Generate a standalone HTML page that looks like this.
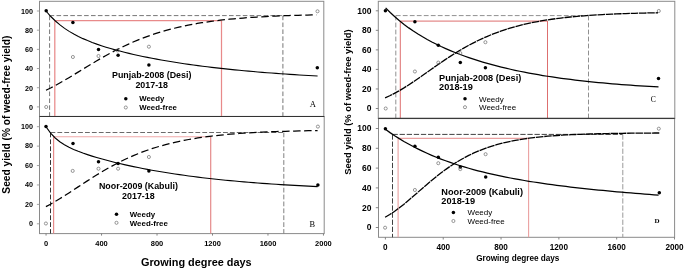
<!DOCTYPE html>
<html><head><meta charset="utf-8"><style>
html,body{margin:0;padding:0;background:#fff;width:685px;height:269px;overflow:hidden}
svg{display:block;filter:blur(0.3px)}

</style></head><body>
<svg width="685" height="269" viewBox="0 0 685 269"><rect x="0" y="0" width="685" height="269" fill="#fff"/>
<rect x="39.5" y="1.3" width="284.30" height="115.10" fill="none" stroke="#8a8a8a" stroke-width="1"/>
<line x1="36.9" y1="106.9" x2="39.5" y2="106.9" stroke="#999" stroke-width="0.9" />
<text x="32.9" y="109.7" font-size="7.2" font-weight="bold" text-anchor="end" fill="#000" style='font-family:"Liberation Sans",sans-serif' >0</text>
<line x1="36.9" y1="87.72" x2="39.5" y2="87.72" stroke="#999" stroke-width="0.9" />
<text x="32.9" y="90.52" font-size="7.2" font-weight="bold" text-anchor="end" fill="#000" style='font-family:"Liberation Sans",sans-serif' >20</text>
<line x1="36.9" y1="68.54" x2="39.5" y2="68.54" stroke="#999" stroke-width="0.9" />
<text x="32.9" y="71.34" font-size="7.2" font-weight="bold" text-anchor="end" fill="#000" style='font-family:"Liberation Sans",sans-serif' >40</text>
<line x1="36.9" y1="49.36" x2="39.5" y2="49.36" stroke="#999" stroke-width="0.9" />
<text x="32.9" y="52.16" font-size="7.2" font-weight="bold" text-anchor="end" fill="#000" style='font-family:"Liberation Sans",sans-serif' >60</text>
<line x1="36.9" y1="30.18" x2="39.5" y2="30.18" stroke="#999" stroke-width="0.9" />
<text x="32.9" y="32.98" font-size="7.2" font-weight="bold" text-anchor="end" fill="#000" style='font-family:"Liberation Sans",sans-serif' >80</text>
<line x1="36.9" y1="11.0" x2="39.5" y2="11.0" stroke="#999" stroke-width="0.9" />
<text x="32.9" y="13.8" font-size="7.2" font-weight="bold" text-anchor="end" fill="#000" style='font-family:"Liberation Sans",sans-serif' >100</text>
<line x1="49.6" y1="15.6" x2="282.9" y2="15.6" stroke="#777" stroke-width="1.0" stroke-dasharray="4.6 2.3" />
<line x1="49.6" y1="15.6" x2="49.6" y2="116.4" stroke="#777" stroke-width="1.0" stroke-dasharray="4.6 2.3" />
<line x1="282.9" y1="15.6" x2="282.9" y2="116.4" stroke="#777" stroke-width="1.0" stroke-dasharray="4.6 2.3" />
<line x1="54.8" y1="20.7" x2="221.5" y2="20.7" stroke="#e88a8a" stroke-width="1.25" />
<line x1="54.8" y1="20.7" x2="54.8" y2="116.4" stroke="#e88a8a" stroke-width="1.25" />
<line x1="221.5" y1="20.7" x2="221.5" y2="116.4" stroke="#e88a8a" stroke-width="1.25" />
<path d="M46.20,11.26 L50.80,16.50 L55.40,21.01 L60.00,24.92 L64.60,28.34 L69.20,31.35 L73.80,34.04 L78.40,36.45 L83.00,38.63 L87.60,40.61 L92.20,42.44 L96.80,44.13 L101.40,45.70 L106.00,47.17 L110.60,48.55 L115.20,49.86 L119.80,51.09 L124.40,52.26 L129.00,53.38 L133.60,54.44 L138.20,55.46 L142.80,56.44 L147.40,57.37 L152.00,58.27 L156.60,59.14 L161.20,59.97 L165.80,60.77 L170.40,61.54 L175.00,62.28 L179.60,63.00 L184.20,63.69 L188.80,64.35 L193.40,65.00 L198.00,65.62 L202.60,66.21 L207.20,66.79 L211.80,67.35 L216.40,67.89 L221.00,68.40 L225.60,68.91 L230.20,69.39 L234.80,69.86 L239.40,70.31 L244.00,70.74 L248.60,71.17 L253.20,71.57 L257.80,71.96 L262.40,72.34 L267.00,72.71 L271.60,73.06 L276.20,73.40 L280.80,73.73 L285.40,74.05 L290.00,74.36 L294.60,74.66 L299.20,74.94 L303.80,75.22 L308.40,75.49 L313.00,75.75 L317.60,76.00" fill="none" stroke="#000" stroke-width="1.1"/>
<path d="M46.00,90.25 L50.58,87.98 L55.17,85.57 L59.75,83.04 L64.34,80.40 L68.92,77.69 L73.51,74.92 L78.09,72.12 L82.68,69.31 L87.26,66.51 L91.85,63.73 L96.43,61.01 L101.02,58.33 L105.60,55.73 L110.19,53.22 L114.77,50.78 L119.36,48.45 L123.94,46.21 L128.53,44.08 L133.11,42.05 L137.69,40.12 L142.28,38.30 L146.86,36.57 L151.45,34.95 L156.03,33.43 L160.62,32.00 L165.20,30.66 L169.79,29.41 L174.37,28.24 L178.96,27.15 L183.54,26.13 L188.13,25.19 L192.71,24.31 L197.30,23.49 L201.88,22.74 L206.47,22.03 L211.05,21.38 L215.64,20.78 L220.22,20.22 L224.81,19.71 L229.39,19.23 L233.97,18.79 L238.56,18.39 L243.14,18.01 L247.73,17.67 L252.31,17.35 L256.90,17.05 L261.48,16.78 L266.07,16.53 L270.65,16.30 L275.24,16.09 L279.82,15.90 L284.41,15.72 L288.99,15.55 L293.58,15.40 L298.16,15.26 L302.75,15.13 L307.33,15.01 L311.92,14.90 L316.50,14.80" fill="none" stroke="#000" stroke-width="1.25" stroke-dasharray="7.5 3.5"/>
<circle cx="46.2" cy="10.8" r="1.75" fill="#000"/>
<circle cx="72.9" cy="22.5" r="1.75" fill="#000"/>
<circle cx="98.5" cy="49.6" r="1.75" fill="#000"/>
<circle cx="118.1" cy="55.3" r="1.75" fill="#000"/>
<circle cx="148.9" cy="65" r="1.75" fill="#000"/>
<circle cx="317.3" cy="67.8" r="1.75" fill="#000"/>
<circle cx="46.2" cy="107" r="1.55" fill="none" stroke="#555" stroke-width="0.6"/>
<circle cx="72.9" cy="57" r="1.55" fill="none" stroke="#555" stroke-width="0.6"/>
<circle cx="98.5" cy="56" r="1.55" fill="none" stroke="#555" stroke-width="0.6"/>
<circle cx="117.5" cy="50.4" r="1.55" fill="none" stroke="#555" stroke-width="0.6"/>
<circle cx="148.9" cy="46.7" r="1.55" fill="none" stroke="#555" stroke-width="0.6"/>
<circle cx="317.5" cy="11.3" r="1.55" fill="none" stroke="#555" stroke-width="0.6"/>
<rect x="378.3" y="1.3" width="296.50" height="117.30" fill="none" stroke="#8a8a8a" stroke-width="1"/>
<line x1="375.8" y1="108.5" x2="378.3" y2="108.5" stroke="#777" stroke-width="0.9" />
<text x="371.4" y="111.4" font-size="8.5" font-weight="bold" text-anchor="end" fill="#000" style='font-family:"Liberation Sans",sans-serif' >0</text>
<line x1="375.8" y1="88.96" x2="378.3" y2="88.96" stroke="#777" stroke-width="0.9" />
<text x="371.4" y="91.86" font-size="8.5" font-weight="bold" text-anchor="end" fill="#000" style='font-family:"Liberation Sans",sans-serif' >20</text>
<line x1="375.8" y1="69.42" x2="378.3" y2="69.42" stroke="#777" stroke-width="0.9" />
<text x="371.4" y="72.32" font-size="8.5" font-weight="bold" text-anchor="end" fill="#000" style='font-family:"Liberation Sans",sans-serif' >40</text>
<line x1="375.8" y1="49.88" x2="378.3" y2="49.88" stroke="#777" stroke-width="0.9" />
<text x="371.4" y="52.78" font-size="8.5" font-weight="bold" text-anchor="end" fill="#000" style='font-family:"Liberation Sans",sans-serif' >60</text>
<line x1="375.8" y1="30.34" x2="378.3" y2="30.34" stroke="#777" stroke-width="0.9" />
<text x="371.4" y="33.24" font-size="8.5" font-weight="bold" text-anchor="end" fill="#000" style='font-family:"Liberation Sans",sans-serif' >80</text>
<line x1="375.8" y1="10.8" x2="378.3" y2="10.8" stroke="#777" stroke-width="0.9" />
<text x="371.4" y="13.7" font-size="8.5" font-weight="bold" text-anchor="end" fill="#000" style='font-family:"Liberation Sans",sans-serif' >100</text>
<line x1="395.8" y1="15.6" x2="588.5" y2="15.6" stroke="#909090" stroke-width="1.0" stroke-dasharray="4.8 2.2" />
<line x1="395.8" y1="15.6" x2="395.8" y2="118.6" stroke="#909090" stroke-width="1.0" stroke-dasharray="4.8 2.2" />
<line x1="588.5" y1="15.6" x2="588.5" y2="118.6" stroke="#909090" stroke-width="1.0" stroke-dasharray="4.8 2.2" />
<line x1="400.3" y1="21.1" x2="547.5" y2="21.1" stroke="#d44a4a" stroke-width="0.8" />
<line x1="400.3" y1="21.1" x2="400.3" y2="118.6" stroke="#d44a4a" stroke-width="0.8" />
<line x1="547.5" y1="21.1" x2="547.5" y2="118.6" stroke="#d44a4a" stroke-width="0.8" />
<path d="M385.60,7.83 L390.23,12.52 L394.85,16.82 L399.48,20.79 L404.10,24.46 L408.73,27.88 L413.35,31.06 L417.98,34.04 L422.60,36.83 L427.23,39.46 L431.85,41.94 L436.48,44.28 L441.11,46.50 L445.73,48.59 L450.36,50.58 L454.98,52.48 L459.61,54.27 L464.23,55.98 L468.86,57.61 L473.48,59.16 L478.11,60.64 L482.73,62.05 L487.36,63.39 L491.98,64.68 L496.61,65.90 L501.24,67.07 L505.86,68.19 L510.49,69.26 L515.11,70.27 L519.74,71.25 L524.36,72.18 L528.99,73.07 L533.61,73.92 L538.24,74.73 L542.86,75.51 L547.49,76.25 L552.12,76.96 L556.74,77.63 L561.37,78.28 L565.99,78.90 L570.62,79.49 L575.24,80.06 L579.87,80.60 L584.49,81.12 L589.12,81.61 L593.74,82.09 L598.37,82.54 L602.99,82.97 L607.62,83.38 L612.25,83.78 L616.87,84.16 L621.50,84.52 L626.12,84.86 L630.75,85.19 L635.37,85.51 L640.00,85.81 L644.62,86.10 L649.25,86.38 L653.87,86.64 L658.50,86.89" fill="none" stroke="#000" stroke-width="1.25"/>
<path d="M385.10,97.85 L389.73,95.75 L394.35,93.42 L398.98,90.86 L403.60,88.11 L408.23,85.19 L412.85,82.14 L417.48,78.98 L422.10,75.75 L426.73,72.49 L431.35,69.22 L435.98,65.97 L440.61,62.77 L445.23,59.64 L449.86,56.60 L454.48,53.65 L459.11,50.82 L463.73,48.11 L468.36,45.53 L472.98,43.08 L477.61,40.77 L482.23,38.59 L486.86,36.54 L491.48,34.62 L496.11,32.83 L500.74,31.16 L505.36,29.61 L509.99,28.17 L514.61,26.83 L519.24,25.59 L523.86,24.45 L528.49,23.40 L533.11,22.42 L537.74,21.53 L542.36,20.71 L546.99,19.95 L551.62,19.26 L556.24,18.62 L560.87,18.04 L565.49,17.50 L570.12,17.01 L574.74,16.56 L579.37,16.15 L583.99,15.78 L588.62,15.43 L593.24,15.12 L597.87,14.83 L602.49,14.57 L607.12,14.33 L611.75,14.12 L616.37,13.92 L621.00,13.74 L625.62,13.57 L630.25,13.42 L634.87,13.28 L639.50,13.16 L644.12,13.04 L648.75,12.94 L653.37,12.84 L658.00,12.76" fill="none" stroke="#000" stroke-width="1.3" stroke-dasharray="7.5 0.8"/>
<circle cx="385.4" cy="10.7" r="1.75" fill="#000"/>
<circle cx="414.9" cy="21.7" r="1.75" fill="#000"/>
<circle cx="438.3" cy="45.2" r="1.75" fill="#000"/>
<circle cx="460.3" cy="62.6" r="1.75" fill="#000"/>
<circle cx="485.4" cy="67.8" r="1.75" fill="#000"/>
<circle cx="658.5" cy="78.6" r="1.75" fill="#000"/>
<circle cx="385.7" cy="108.5" r="1.55" fill="none" stroke="#555" stroke-width="0.6"/>
<circle cx="414.9" cy="71.5" r="1.55" fill="none" stroke="#555" stroke-width="0.6"/>
<circle cx="438.3" cy="62.6" r="1.55" fill="none" stroke="#555" stroke-width="0.6"/>
<circle cx="460.3" cy="53.1" r="1.55" fill="none" stroke="#555" stroke-width="0.6"/>
<circle cx="485.4" cy="42.2" r="1.55" fill="none" stroke="#555" stroke-width="0.6"/>
<circle cx="658.8" cy="11" r="1.55" fill="none" stroke="#555" stroke-width="0.6"/>
<rect x="39.5" y="116.5" width="284.70" height="117.10" fill="none" stroke="#8a8a8a" stroke-width="1"/>
<line x1="36.9" y1="223.8" x2="39.5" y2="223.8" stroke="#999" stroke-width="0.9" />
<text x="32.9" y="226.1" font-size="7.2" font-weight="bold" text-anchor="end" fill="#000" style='font-family:"Liberation Sans",sans-serif' >0</text>
<line x1="36.9" y1="204.38" x2="39.5" y2="204.38" stroke="#999" stroke-width="0.9" />
<text x="32.9" y="206.68" font-size="7.2" font-weight="bold" text-anchor="end" fill="#000" style='font-family:"Liberation Sans",sans-serif' >20</text>
<line x1="36.9" y1="184.96" x2="39.5" y2="184.96" stroke="#999" stroke-width="0.9" />
<text x="32.9" y="187.26" font-size="7.2" font-weight="bold" text-anchor="end" fill="#000" style='font-family:"Liberation Sans",sans-serif' >40</text>
<line x1="36.9" y1="165.54" x2="39.5" y2="165.54" stroke="#999" stroke-width="0.9" />
<text x="32.9" y="167.84" font-size="7.2" font-weight="bold" text-anchor="end" fill="#000" style='font-family:"Liberation Sans",sans-serif' >60</text>
<line x1="36.9" y1="146.12" x2="39.5" y2="146.12" stroke="#999" stroke-width="0.9" />
<text x="32.9" y="148.42" font-size="7.2" font-weight="bold" text-anchor="end" fill="#000" style='font-family:"Liberation Sans",sans-serif' >80</text>
<line x1="36.9" y1="126.7" x2="39.5" y2="126.7" stroke="#999" stroke-width="0.9" />
<text x="32.9" y="129.0" font-size="7.2" font-weight="bold" text-anchor="end" fill="#000" style='font-family:"Liberation Sans",sans-serif' >100</text>
<line x1="50.5" y1="132.5" x2="283.8" y2="132.5" stroke="#6a6a6a" stroke-width="1.0" stroke-dasharray="4.8 2.1" />
<line x1="50.5" y1="132.5" x2="50.5" y2="233.6" stroke="#333" stroke-width="1.0" stroke-dasharray="4.8 2.1" />
<line x1="283.8" y1="132.5" x2="283.8" y2="233.6" stroke="#808080" stroke-width="1.0" stroke-dasharray="4.8 2.1" />
<line x1="53.6" y1="136.8" x2="210.7" y2="136.8" stroke="#efa8a8" stroke-width="1.1" />
<line x1="53.6" y1="136.8" x2="53.6" y2="233.6" stroke="#e58a8a" stroke-width="1.2" />
<line x1="210.7" y1="136.8" x2="210.7" y2="233.6" stroke="#e58a8a" stroke-width="1.2" />
<path d="M46.00,126.71 L50.60,133.15 L55.21,137.98 L59.81,141.73 L64.41,144.74 L69.02,147.25 L73.62,149.40 L78.22,151.31 L82.83,153.04 L87.43,154.63 L92.03,156.11 L96.64,157.50 L101.24,158.82 L105.84,160.08 L110.45,161.29 L115.05,162.44 L119.65,163.55 L124.26,164.61 L128.86,165.64 L133.46,166.62 L138.07,167.57 L142.67,168.48 L147.27,169.36 L151.88,170.21 L156.48,171.02 L161.08,171.80 L165.69,172.56 L170.29,173.29 L174.89,173.99 L179.50,174.66 L184.10,175.31 L188.71,175.94 L193.31,176.54 L197.91,177.12 L202.52,177.68 L207.12,178.22 L211.72,178.74 L216.33,179.24 L220.93,179.72 L225.53,180.18 L230.14,180.63 L234.74,181.06 L239.34,181.47 L243.95,181.87 L248.55,182.26 L253.15,182.63 L257.76,182.98 L262.36,183.33 L266.96,183.66 L271.57,183.98 L276.17,184.28 L280.77,184.58 L285.38,184.86 L289.98,185.14 L294.58,185.40 L299.19,185.66 L303.79,185.90 L308.39,186.14 L313.00,186.36 L317.60,186.58" fill="none" stroke="#000" stroke-width="1.1"/>
<path d="M45.90,206.67 L50.51,204.18 L55.11,201.54 L59.72,198.76 L64.32,195.87 L68.93,192.91 L73.53,189.91 L78.14,186.88 L82.74,183.86 L87.35,180.87 L91.95,177.93 L96.56,175.05 L101.16,172.25 L105.77,169.54 L110.37,166.94 L114.98,164.45 L119.58,162.07 L124.19,159.80 L128.79,157.66 L133.40,155.64 L138.00,153.73 L142.61,151.94 L147.21,150.26 L151.82,148.69 L156.42,147.23 L161.03,145.86 L165.63,144.59 L170.24,143.41 L174.84,142.32 L179.45,141.31 L184.05,140.37 L188.66,139.50 L193.26,138.70 L197.87,137.97 L202.47,137.29 L207.08,136.66 L211.68,136.08 L216.29,135.55 L220.89,135.07 L225.50,134.62 L230.10,134.21 L234.71,133.83 L239.31,133.48 L243.92,133.16 L248.52,132.87 L253.13,132.60 L257.73,132.36 L262.34,132.13 L266.94,131.93 L271.55,131.74 L276.15,131.57 L280.76,131.41 L285.36,131.26 L289.97,131.13 L294.57,131.01 L299.18,130.90 L303.78,130.80 L308.39,130.70 L312.99,130.62 L317.60,130.54" fill="none" stroke="#000" stroke-width="1.25" stroke-dasharray="7.5 3.5"/>
<circle cx="46" cy="126.6" r="1.75" fill="#000"/>
<circle cx="73" cy="143.6" r="1.75" fill="#000"/>
<circle cx="98.5" cy="161.7" r="1.75" fill="#000"/>
<circle cx="118.1" cy="163.6" r="1.75" fill="#000"/>
<circle cx="148.9" cy="171.1" r="1.75" fill="#000"/>
<circle cx="317.9" cy="185.1" r="1.75" fill="#000"/>
<circle cx="45.9" cy="223.5" r="1.55" fill="none" stroke="#555" stroke-width="0.6"/>
<circle cx="72.7" cy="170.9" r="1.55" fill="none" stroke="#555" stroke-width="0.6"/>
<circle cx="98.5" cy="168.7" r="1.55" fill="none" stroke="#555" stroke-width="0.6"/>
<circle cx="118.1" cy="168.7" r="1.55" fill="none" stroke="#555" stroke-width="0.6"/>
<circle cx="148.9" cy="157" r="1.55" fill="none" stroke="#555" stroke-width="0.6"/>
<circle cx="317.9" cy="126.6" r="1.55" fill="none" stroke="#555" stroke-width="0.6"/>
<rect x="378.5" y="118.5" width="296.10" height="118.80" fill="none" stroke="#8a8a8a" stroke-width="1"/>
<line x1="375.8" y1="227.5" x2="378.5" y2="227.5" stroke="#777" stroke-width="0.9" />
<text x="371.4" y="230.4" font-size="8.5" font-weight="bold" text-anchor="end" fill="#000" style='font-family:"Liberation Sans",sans-serif' >0</text>
<line x1="375.8" y1="207.7" x2="378.5" y2="207.7" stroke="#777" stroke-width="0.9" />
<text x="371.4" y="210.6" font-size="8.5" font-weight="bold" text-anchor="end" fill="#000" style='font-family:"Liberation Sans",sans-serif' >20</text>
<line x1="375.8" y1="187.9" x2="378.5" y2="187.9" stroke="#777" stroke-width="0.9" />
<text x="371.4" y="190.8" font-size="8.5" font-weight="bold" text-anchor="end" fill="#000" style='font-family:"Liberation Sans",sans-serif' >40</text>
<line x1="375.8" y1="168.1" x2="378.5" y2="168.1" stroke="#777" stroke-width="0.9" />
<text x="371.4" y="171.0" font-size="8.5" font-weight="bold" text-anchor="end" fill="#000" style='font-family:"Liberation Sans",sans-serif' >60</text>
<line x1="375.8" y1="148.3" x2="378.5" y2="148.3" stroke="#777" stroke-width="0.9" />
<text x="371.4" y="151.2" font-size="8.5" font-weight="bold" text-anchor="end" fill="#000" style='font-family:"Liberation Sans",sans-serif' >80</text>
<line x1="375.8" y1="128.5" x2="378.5" y2="128.5" stroke="#777" stroke-width="0.9" />
<text x="371.4" y="131.4" font-size="8.5" font-weight="bold" text-anchor="end" fill="#000" style='font-family:"Liberation Sans",sans-serif' >100</text>
<line x1="392.5" y1="134.4" x2="622.8" y2="134.4" stroke="#404040" stroke-width="1.0" stroke-dasharray="5.3 1.8" />
<line x1="392.5" y1="134.4" x2="392.5" y2="237.3" stroke="#404040" stroke-width="1.0" stroke-dasharray="5.3 1.8" />
<line x1="622.8" y1="134.4" x2="622.8" y2="237.3" stroke="#999" stroke-width="1.0" stroke-dasharray="5.3 1.8" />
<line x1="398.1" y1="138.4" x2="528.6" y2="138.4" stroke="#eaa0a0" stroke-width="1.1" />
<line x1="398.1" y1="138.4" x2="398.1" y2="237.3" stroke="#eaa0a0" stroke-width="1.1" />
<line x1="528.6" y1="138.4" x2="528.6" y2="237.3" stroke="#eaa0a0" stroke-width="1.1" />
<path d="M385.40,129.36 L390.03,132.62 L394.66,135.72 L399.29,138.65 L403.92,141.42 L408.55,144.05 L413.18,146.55 L417.81,148.91 L422.44,151.16 L427.07,153.29 L431.71,155.31 L436.34,157.23 L440.97,159.05 L445.60,160.78 L450.23,162.43 L454.86,164.00 L459.49,165.49 L464.12,166.91 L468.75,168.27 L473.38,169.56 L478.01,170.79 L482.64,171.97 L487.27,173.09 L491.90,174.16 L496.53,175.19 L501.16,176.17 L505.79,177.11 L510.42,178.01 L515.05,178.87 L519.68,179.70 L524.32,180.50 L528.95,181.26 L533.58,182.00 L538.21,182.70 L542.84,183.39 L547.47,184.04 L552.10,184.68 L556.73,185.29 L561.36,185.88 L565.99,186.45 L570.62,187.01 L575.25,187.55 L579.88,188.07 L584.51,188.57 L589.14,189.06 L593.77,189.54 L598.40,190.01 L603.03,190.46 L607.66,190.90 L612.29,191.33 L616.93,191.76 L621.56,192.17 L626.19,192.57 L630.82,192.97 L635.45,193.35 L640.08,193.73 L644.71,194.10 L649.34,194.47 L653.97,194.83 L658.60,195.18" fill="none" stroke="#000" stroke-width="1.25"/>
<path d="M385.10,217.26 L389.75,214.54 L394.39,211.45 L399.04,208.05 L403.69,204.39 L408.34,200.53 L412.98,196.54 L417.63,192.48 L422.28,188.41 L426.93,184.40 L431.57,180.47 L436.22,176.68 L440.87,173.05 L445.52,169.60 L450.16,166.35 L454.81,163.30 L459.46,160.47 L464.11,157.84 L468.75,155.42 L473.40,153.20 L478.05,151.17 L482.70,149.31 L487.34,147.63 L491.99,146.10 L496.64,144.71 L501.29,143.47 L505.93,142.34 L510.58,141.33 L515.23,140.41 L519.88,139.60 L524.52,138.86 L529.17,138.21 L533.82,137.62 L538.47,137.09 L543.11,136.62 L547.76,136.20 L552.41,135.83 L557.06,135.50 L561.70,135.20 L566.35,134.93 L571.00,134.70 L575.65,134.49 L580.29,134.30 L584.94,134.13 L589.59,133.98 L594.24,133.85 L598.88,133.73 L603.53,133.63 L608.18,133.53 L612.83,133.45 L617.47,133.38 L622.12,133.31 L626.77,133.25 L631.42,133.20 L636.06,133.16 L640.71,133.11 L645.36,133.08 L650.01,133.05 L654.65,133.02 L659.30,132.99" fill="none" stroke="#000" stroke-width="1.3" stroke-dasharray="7.5 0.8"/>
<circle cx="385.4" cy="128.7" r="1.75" fill="#000"/>
<circle cx="414.9" cy="146.3" r="1.75" fill="#000"/>
<circle cx="438.3" cy="157.3" r="1.75" fill="#000"/>
<circle cx="460.3" cy="166.9" r="1.75" fill="#000"/>
<circle cx="485.7" cy="177.1" r="1.75" fill="#000"/>
<circle cx="659.3" cy="192.7" r="1.75" fill="#000"/>
<circle cx="385.1" cy="227.7" r="1.55" fill="none" stroke="#555" stroke-width="0.6"/>
<circle cx="414.9" cy="190" r="1.55" fill="none" stroke="#555" stroke-width="0.6"/>
<circle cx="438.3" cy="163.2" r="1.55" fill="none" stroke="#555" stroke-width="0.6"/>
<circle cx="460.3" cy="169.1" r="1.55" fill="none" stroke="#555" stroke-width="0.6"/>
<circle cx="485.6" cy="154.2" r="1.55" fill="none" stroke="#555" stroke-width="0.6"/>
<circle cx="658.8" cy="128.7" r="1.55" fill="none" stroke="#555" stroke-width="0.6"/>
<line x1="39.5" y1="116.5" x2="324.2" y2="116.5" stroke="#333" stroke-width="1.15" />
<line x1="378.3" y1="118.4" x2="674.8" y2="118.4" stroke="#3a3a3a" stroke-width="1.1" />
<line x1="46.06" y1="233.6" x2="46.06" y2="235.6" stroke="#777" stroke-width="0.9" />
<text x="46.06" y="245.8" font-size="7.5" font-weight="bold" text-anchor="middle" fill="#000" style='font-family:"Liberation Sans",sans-serif' >0</text>
<line x1="385.4" y1="237.3" x2="385.4" y2="239.5" stroke="#777" stroke-width="0.9" />
<text x="385.4" y="250.4" font-size="8.2" font-weight="bold" text-anchor="middle" fill="#000" style='font-family:"Liberation Sans",sans-serif' >0</text>
<line x1="101.54" y1="233.6" x2="101.54" y2="235.6" stroke="#777" stroke-width="0.9" />
<text x="101.54" y="245.8" font-size="7.5" font-weight="bold" text-anchor="middle" fill="#000" style='font-family:"Liberation Sans",sans-serif' >400</text>
<line x1="443.22" y1="237.3" x2="443.22" y2="239.5" stroke="#777" stroke-width="0.9" />
<text x="443.22" y="250.4" font-size="8.2" font-weight="bold" text-anchor="middle" fill="#000" style='font-family:"Liberation Sans",sans-serif' >400</text>
<line x1="157.02" y1="233.6" x2="157.02" y2="235.6" stroke="#777" stroke-width="0.9" />
<text x="157.02" y="245.8" font-size="7.5" font-weight="bold" text-anchor="middle" fill="#000" style='font-family:"Liberation Sans",sans-serif' >800</text>
<line x1="501.04" y1="237.3" x2="501.04" y2="239.5" stroke="#777" stroke-width="0.9" />
<text x="501.04" y="250.4" font-size="8.2" font-weight="bold" text-anchor="middle" fill="#000" style='font-family:"Liberation Sans",sans-serif' >800</text>
<line x1="212.5" y1="233.6" x2="212.5" y2="235.6" stroke="#777" stroke-width="0.9" />
<text x="212.5" y="245.8" font-size="7.5" font-weight="bold" text-anchor="middle" fill="#000" style='font-family:"Liberation Sans",sans-serif' >1200</text>
<line x1="558.86" y1="237.3" x2="558.86" y2="239.5" stroke="#777" stroke-width="0.9" />
<text x="558.86" y="250.4" font-size="8.2" font-weight="bold" text-anchor="middle" fill="#000" style='font-family:"Liberation Sans",sans-serif' >1200</text>
<line x1="267.98" y1="233.6" x2="267.98" y2="235.6" stroke="#777" stroke-width="0.9" />
<text x="267.98" y="245.8" font-size="7.5" font-weight="bold" text-anchor="middle" fill="#000" style='font-family:"Liberation Sans",sans-serif' >1600</text>
<line x1="616.68" y1="237.3" x2="616.68" y2="239.5" stroke="#777" stroke-width="0.9" />
<text x="616.68" y="250.4" font-size="8.2" font-weight="bold" text-anchor="middle" fill="#000" style='font-family:"Liberation Sans",sans-serif' >1600</text>
<line x1="323.46" y1="233.6" x2="323.46" y2="235.6" stroke="#777" stroke-width="0.9" />
<text x="323.46" y="245.8" font-size="7.5" font-weight="bold" text-anchor="middle" fill="#000" style='font-family:"Liberation Sans",sans-serif' >2000</text>
<line x1="674.5" y1="237.3" x2="674.5" y2="239.5" stroke="#777" stroke-width="0.9" />
<text x="674.5" y="250.4" font-size="8.2" font-weight="bold" text-anchor="middle" fill="#000" style='font-family:"Liberation Sans",sans-serif' >2000</text>
<text x="151.7" y="78.4" font-size="8.9" font-weight="bold" text-anchor="middle" fill="#000" style='font-family:"Liberation Sans",sans-serif' >Punjab-2008 (Desi)</text>
<text x="151.7" y="87.6" font-size="8.9" font-weight="bold" text-anchor="middle" fill="#000" style='font-family:"Liberation Sans",sans-serif' >2017-18</text>
<circle cx="125.8" cy="98.7" r="1.75" fill="#000"/>
<circle cx="125.8" cy="107.5" r="1.55" fill="none" stroke="#555" stroke-width="0.6"/>
<text x="139.3" y="101.4" font-size="7.8" font-weight="bold" text-anchor="start" fill="#000" style='font-family:"Liberation Sans",sans-serif' >Weedy</text>
<text x="139.3" y="109.8" font-size="7.8" font-weight="bold" text-anchor="start" fill="#000" style='font-family:"Liberation Sans",sans-serif' >Weed-free</text>
<text x="138.4" y="189.3" font-size="8.9" font-weight="bold" text-anchor="middle" fill="#000" style='font-family:"Liberation Sans",sans-serif' >Noor-2009 (Kabuli)</text>
<text x="138.4" y="198.7" font-size="8.9" font-weight="bold" text-anchor="middle" fill="#000" style='font-family:"Liberation Sans",sans-serif' >2017-18</text>
<circle cx="116.5" cy="214.3" r="1.75" fill="#000"/>
<circle cx="116.5" cy="222.8" r="1.55" fill="none" stroke="#555" stroke-width="0.6"/>
<text x="129.8" y="217.4" font-size="7.9" font-weight="bold" text-anchor="start" fill="#000" style='font-family:"Liberation Sans",sans-serif' >Weedy</text>
<text x="129.8" y="225.5" font-size="7.9" font-weight="bold" text-anchor="start" fill="#000" style='font-family:"Liberation Sans",sans-serif' >Weed-free</text>
<text x="439.1" y="80.7" font-size="9.2" font-weight="bold" text-anchor="start" fill="#000" style='font-family:"Liberation Sans",sans-serif' >Punjab-2008 (Desi)</text>
<text x="439.1" y="90.0" font-size="9.2" font-weight="bold" text-anchor="start" fill="#000" style='font-family:"Liberation Sans",sans-serif' >2018-19</text>
<circle cx="465" cy="98.7" r="1.75" fill="#000"/>
<circle cx="465" cy="107.2" r="1.55" fill="none" stroke="#555" stroke-width="0.6"/>
<text x="479.0" y="101.7" font-size="8" font-weight="normal" text-anchor="start" fill="#000" style='font-family:"Liberation Sans",sans-serif' >Weedy</text>
<text x="479.0" y="110.1" font-size="8" font-weight="normal" text-anchor="start" fill="#000" style='font-family:"Liberation Sans",sans-serif' >Weed-free</text>
<text x="441.3" y="194.7" font-size="9.2" font-weight="bold" text-anchor="start" fill="#000" style='font-family:"Liberation Sans",sans-serif' >Noor-2009 (Kabuli)</text>
<text x="441.3" y="204.3" font-size="9.2" font-weight="bold" text-anchor="start" fill="#000" style='font-family:"Liberation Sans",sans-serif' >2018-19</text>
<circle cx="453.4" cy="212.6" r="1.75" fill="#000"/>
<circle cx="453.4" cy="221" r="1.55" fill="none" stroke="#555" stroke-width="0.6"/>
<text x="467.5" y="215.2" font-size="8" font-weight="normal" text-anchor="start" fill="#000" style='font-family:"Liberation Sans",sans-serif' >Weedy</text>
<text x="467.5" y="223.6" font-size="8" font-weight="normal" text-anchor="start" fill="#000" style='font-family:"Liberation Sans",sans-serif' >Weed-free</text>
<text x="309.8" y="107.4" font-size="8.6" font-weight="normal" text-anchor="start" fill="#000" style='font-family:"Liberation Serif",serif' >A</text>
<text x="309.4" y="226.9" font-size="8.4" font-weight="normal" text-anchor="start" fill="#000" style='font-family:"Liberation Serif",serif' >B</text>
<text x="650.7" y="102.0" font-size="7.6" font-weight="normal" text-anchor="start" fill="#000" style='font-family:"Liberation Serif",serif' >C</text>
<text x="654.6" y="222.8" font-size="7.0" font-weight="bold" text-anchor="start" fill="#000" style='font-family:"Liberation Serif",serif' >D</text>
<text x="196.3" y="266.2" font-size="10.9" font-weight="bold" text-anchor="middle" fill="#000" style='font-family:"Liberation Sans",sans-serif' >Growing degree days</text>
<text x="517.8" y="260.9" font-size="8.2" font-weight="bold" text-anchor="middle" fill="#000" style='font-family:"Liberation Sans",sans-serif' >Growing degree days</text>
<text transform="translate(9.6,114.7) rotate(-90)" font-size="10.2" font-weight="bold" text-anchor="middle" font-family='"Liberation Sans",sans-serif'>Seed yield (% of weed-free yield)</text>
<text transform="translate(350.9,102.1) rotate(-90)" font-size="9.4" font-weight="bold" text-anchor="middle" font-family='"Liberation Sans",sans-serif'>Seed yield (% of weed-free yield)</text></svg>
</body></html>
